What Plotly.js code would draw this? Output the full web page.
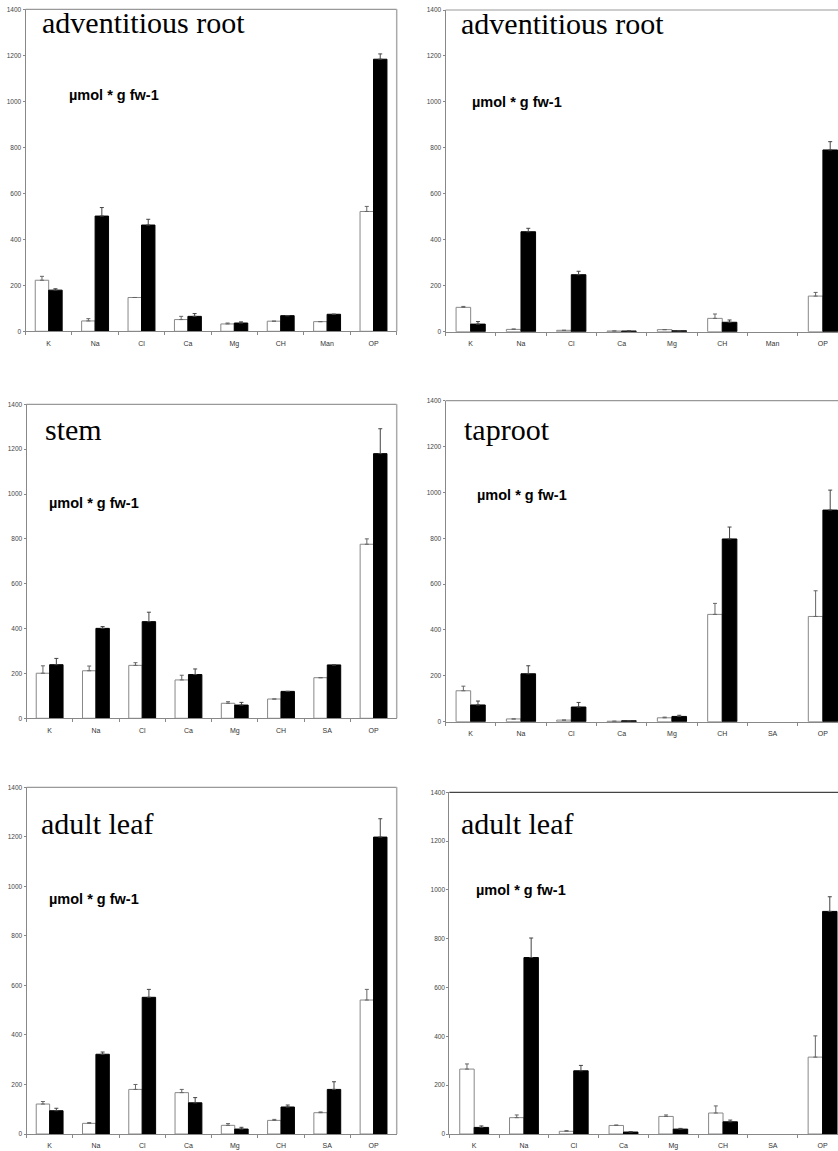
<!DOCTYPE html>
<html>
<head>
<meta charset="utf-8">
<script src="https://cdn.plot.ly/plotly-3.0.1.min.js"></script>
<style>html,body{margin:0;padding:0;background:#fff;}#chart{width:838px;height:1151px;}</style>
</head>
<body>
<div id="chart"></div>
<script>
// ---------- data ----------
const catsTop = ['K','Na','Cl','Ca','Mg','CH','Man','OP'];
const catsLow = ['K','Na','Cl','Ca','Mg','CH','SA','OP'];

// panel 1: adventitious root (left)
const advRootA_control    = [222, 45, 147, 51, 32, 44, 42, 521];
const advRootA_controlErr = [17, 10, null, 14, 4, null, null, 22];
const advRootA_salt       = [179, 501, 462, 65, 36, 68, 74, 1183];
const advRootA_saltErr    = [6, 37, 25, 12, 5, null, null, 23];

// panel 2: adventitious root (right)
const advRootB_control    = [106, 10, 6, 3, 9, 58, null, 155];
const advRootB_controlErr = [4, 2, null, null, null, 19, null, 16];
const advRootB_salt       = [33, 435, 248, 3, 4, 41, null, 791];
const advRootB_saltErr    = [11, 15, 15, null, null, 10, null, 36];

// panel 3: stem
const stem_control    = [201, 212, 236, 171, 67, 86, 181, 776];
const stem_controlErr = [33, 21, 12, 21, 7, null, null, 24];
const stem_salt       = [239, 401, 431, 195, 59, 120, 238, 1180];
const stem_saltErr    = [28, 8, 42, 25, 12, null, null, 111];

// panel 4: taproot
const taproot_control    = [135, 12, 7, 2, 17, 468, null, 459];
const taproot_controlErr = [20, null, null, null, 3, 48, null, 112];
const taproot_salt       = [73, 209, 64, 4, 23, 797, null, 923];
const taproot_saltErr    = [17, 35, 20, null, 5, 52, null, 87];

// panel 5: adult leaf (left)
const leafA_control    = [121, 43, 180, 167, 35, 55, 86, 541];
const leafA_controlErr = [10, 3, 20, 13, 7, 4, 3, 43];
const leafA_salt       = [94, 322, 552, 126, 20, 109, 180, 1199];
const leafA_saltErr    = [10, 9, 32, 21, 7, 8, 31, 74];

// panel 6: adult leaf (right)
const leafB_control    = [266, 67, 11, 35, 72, 86, null, 315];
const leafB_controlErr = [21, 11, 3, 2, 6, 29, null, 87];
const leafB_salt       = [27, 723, 259, 8, 20, 50, null, 912];
const leafB_saltErr    = [6, 80, 22, 2, 3, 7, null, 60];

const panelTitles = ['adventitious root','adventitious root','stem','taproot','adult leaf','adult leaf'];
const unitLabel = 'µmol * g fw-1';
const yTickVals = [0,200,400,600,800,1000,1200,1400];

// ---------- layout geometry (pixels) ----------
const W = 838, H = 1151;
const px = x => x / W;
const py = y => 1 - y / H;

const panels = [
  {cats: catsTop, c: advRootA_control, ce: advRootA_controlErr, s: advRootA_salt, se: advRootA_saltErr,
   left: 25.5, right: 396.7, top: 9.3, zero: 331.3, xmax: 7.5, rightBorder: true,
   titleX: 40, titleBase: 32.7, unitX: 67, unitBase: 100, topColor: '#999'},
  {cats: catsTop, c: advRootB_control, ce: advRootB_controlErr, s: advRootB_salt, se: advRootB_saltErr,
   left: 445.5, right: 838, top: 10, zero: 331.7, xmax: 7.3, rightBorder: false,
   titleX: 459, titleBase: 33.3, unitX: 470, unitBase: 106.7, topColor: '#999'},
  {cats: catsLow, c: stem_control, ce: stem_controlErr, s: stem_salt, se: stem_saltErr,
   left: 26.5, right: 396.7, top: 404.3, zero: 718.3, xmax: 7.5, rightBorder: true,
   titleX: 42.7, titleBase: 439.3, unitX: 46.7, unitBase: 507.7, topColor: '#999'},
  {cats: catsLow, c: taproot_control, ce: taproot_controlErr, s: taproot_salt, se: taproot_saltErr,
   left: 445.5, right: 838, top: 400.7, zero: 721.7, xmax: 7.3, rightBorder: false,
   titleX: 461.7, titleBase: 439.3, unitX: 475, unitBase: 500, topColor: '#999'},
  {cats: catsLow, c: leafA_control, ce: leafA_controlErr, s: leafA_salt, se: leafA_saltErr,
   left: 26.5, right: 396.7, top: 787.3, zero: 1134, xmax: 7.5, rightBorder: true,
   titleX: 39.3, titleBase: 833.3, unitX: 46.7, unitBase: 904, topColor: '#999'},
  {cats: catsLow, c: leafB_control, ce: leafB_controlErr, s: leafB_salt, se: leafB_saltErr,
   left: 449.3, right: 838, top: 792.3, zero: 1134, xmax: 7.31, rightBorder: false,
   titleX: 459, titleBase: 833.3, unitX: 474, unitBase: 895.3, topColor: '#444'}
];

const traces = [];
const layout = {
  width: W, height: H,
  margin: {l: 0, r: 0, t: 0, b: 0, pad: 0},
  paper_bgcolor: '#fff', plot_bgcolor: '#fff',
  showlegend: false,
  barmode: 'group', bargap: 0.42, bargroupgap: 0,
  font: {family: 'Liberation Sans, Arial, sans-serif', size: 7, color: '#333'},
  annotations: [], shapes: []
};

const titleFs = 30, unitFs = 14.5;

panels.forEach((p, i) => {
  const n = i + 1;
  const xa = n === 1 ? 'x' : 'x' + n;
  const ya = n === 1 ? 'y' : 'y' + n;
  const clean = a => a.map(v => v === null ? NaN : v);
  traces.push({
    type: 'bar', x: p.cats, y: p.c, xaxis: xa, yaxis: ya,
    marker: {color: '#ffffff', line: {color: '#888', width: 1}},
    error_y: {type: 'data', array: clean(p.ce), arrayminus: p.ce.map(() => 0), symmetric: false,
              color: '#666', thickness: 1, width: 2},
    hoverinfo: 'skip'
  });
  traces.push({
    type: 'bar', x: p.cats, y: p.s, xaxis: xa, yaxis: ya,
    marker: {color: '#000000', line: {color: '#000', width: 1}},
    error_y: {type: 'data', array: clean(p.se), arrayminus: p.se.map(() => 0), symmetric: false,
              color: '#444', thickness: 1, width: 2},
    hoverinfo: 'skip'
  });
  const xKey = n === 1 ? 'xaxis' : 'xaxis' + n;
  const yKey = n === 1 ? 'yaxis' : 'yaxis' + n;
  layout[xKey] = {
    domain: [px(p.left), px(p.right)], anchor: ya, type: 'category',
    categoryorder: 'array', categoryarray: p.cats,
    range: [-0.5, p.xmax], fixedrange: true,
    showline: true, linecolor: '#888', linewidth: 1, mirror: false,
    showgrid: false, zeroline: false,
    ticks: 'outside', tickson: 'boundaries', ticklen: 3, tickcolor: '#888', tickwidth: 1,
    tickfont: {size: 7, color: '#333', family: 'Liberation Sans, Arial, sans-serif'},
    ticklabelstandoff: 5
  };
  layout[yKey] = {
    domain: [py(p.zero), py(p.top)], anchor: xa,
    range: [0, 1400], tickvals: yTickVals, fixedrange: true,
    showline: true, linecolor: '#888', linewidth: 1, mirror: false,
    showgrid: false, zeroline: false,
    ticks: 'outside', ticklen: 2, tickcolor: '#888', tickwidth: 1,
    tickfont: {size: 6.5, color: '#444', family: 'Liberation Sans, Arial, sans-serif'},
    ticklabelstandoff: 0
  };
  layout.shapes.push({type: 'line', xref: 'paper', yref: 'paper',
    x0: px(p.left), x1: px(p.right), y0: py(p.top), y1: py(p.top),
    line: {color: p.topColor, width: 1.2}});
  if (p.rightBorder) {
    layout.shapes.push({type: 'line', xref: 'paper', yref: 'paper',
      x0: px(p.right), x1: px(p.right), y0: py(p.zero), y1: py(p.top),
      line: {color: '#aaa', width: 1.5}});
  }
  layout.annotations.push({
    text: panelTitles[i], xref: 'paper', yref: 'paper',
    x: px(p.titleX), y: py(p.titleBase - 0.33 * titleFs),
    xanchor: 'left', yanchor: 'middle', showarrow: false,
    font: {family: 'Liberation Serif, Times New Roman, serif', size: titleFs, color: '#000'}
  });
  layout.annotations.push({
    text: '<b>' + unitLabel + '</b>', xref: 'paper', yref: 'paper',
    x: px(p.unitX), y: py(p.unitBase - 0.35 * unitFs),
    xanchor: 'left', yanchor: 'middle', showarrow: false,
    font: {family: 'Liberation Sans, Arial, sans-serif', size: unitFs, color: '#000'}
  });
});

Plotly.newPlot('chart', traces, layout, {staticPlot: true, displayModeBar: false});
</script>
</body>
</html>
